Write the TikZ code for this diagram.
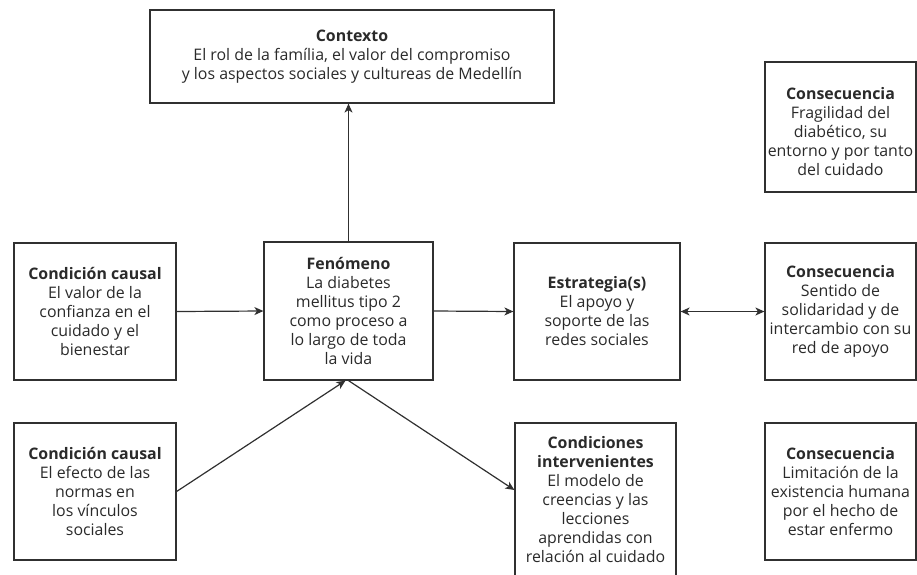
\documentclass[tikz,border=0pt]{standalone}
\usepackage{fontspec}
\setmainfont{Open Sans}
\usetikzlibrary{arrows.meta,calc}
\definecolor{ink}{HTML}{303030}
\definecolor{txt}{HTML}{2A2A2A}
\begin{document}
\begin{tikzpicture}[x=1pt,y=-1pt,
  lbl/.style={align=center, inner sep=0pt, font=\fontsize{15.9}{19}\selectfont, text=txt},
  box/.style={lbl, draw=ink, line width=1.2pt},
  conn/.style={draw=ink, line width=1.2pt, -{Stealth[length=9pt,width=8pt,inset=2.5pt]}},
  dconn/.style={draw=ink, line width=1.2pt, {Stealth[length=9pt,width=8pt,inset=2.5pt]}-{Stealth[length=9pt,width=8pt,inset=2.5pt]}}]
\useasboundingbox (0,0) rectangle (917,574);
\node[box, minimum width=404, minimum height=93] (ctx) at (352,56.5)
  {\textbf{Contexto}\\El rol de la família, el valor del compromiso\\y los aspectos sociales y cultureas de Medellín};
\node[box, minimum width=151, minimum height=130] (cons1) at (840.5,127) {};
\node[lbl] (cons1t) at ($(cons1.center)+(0,5)$)
  {\textbf{Consecuencia}\\Fragilidad del\\diabético, su\\entorno y por tanto\\del cuidado};
\node[box, minimum width=162, minimum height=137] (cc1) at (95,311.5)
  {\textbf{Condición causal}\\El valor de la\\confianza en el\\cuidado y el\\bienestar};
\node[box, minimum width=169, minimum height=138] (fen) at (348.5,311)
  {\textbf{Fenómeno}\\La diabetes\\mellitus tipo 2\\como proceso a\\lo largo de toda\\la vida};
\node[box, minimum width=166, minimum height=137] (est) at (597,311.5)
  {\textbf{Estrategia(s)}\\El apoyo y\\soporte de las\\redes sociales};
\node[box, minimum width=151, minimum height=137] (cons2) at (840.5,311.5)
  {\textbf{Consecuencia}\\Sentido de\\solidaridad y de\\intercambio con su\\red de apoyo};
\node[box, minimum width=162, minimum height=137] (cc2) at (95,491.5)
  {\textbf{Condición causal}\\El efecto de las\\normas en\\los vínculos\\sociales};
\node[box, minimum width=161, minimum height=154] (ci) at (595.5,500)
  {\textbf{Condiciones}\\\textbf{intervenientes}\\El modelo de\\creencias y las\\lecciones\\aprendidas con\\relación al cuidado};
\node[box, minimum width=151, minimum height=137] (cons3) at (840.5,491.5)
  {\textbf{Consecuencia}\\Limitación de la\\existencia humana\\por el hecho de\\estar enfermo};
\draw[conn] (fen.north) -- (fen.north |- ctx.south);
\draw[conn] (cc1.east) -- (fen.west);
\draw[conn] (fen.east) -- (est.west);
\draw[dconn] (est.east) -- (cons2.west);
\draw[conn] (cc2.east) -- ($(fen.south)+(-3,0)$);
\draw[conn] (fen.south) -- ($(ci.west)+(0,-10)$);
\end{tikzpicture}
\end{document}
